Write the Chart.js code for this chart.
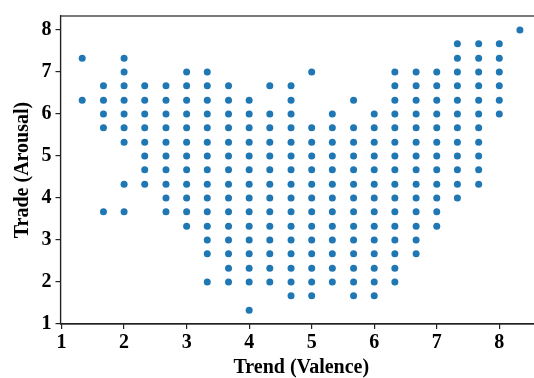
<!DOCTYPE html>
<html>
<head>
<meta charset="utf-8">
<script src="https://cdn.jsdelivr.net/npm/chart.js@4"></script>
<style>
  html, body { margin: 0; padding: 0; background: #fff; overflow: hidden; }
</style>
</head>
<body>
<canvas id="scatterChart" width="546" height="378"></canvas>
<script>
// Trend (Valence) columns and the Arousal values found in each column
const trendValues = [1.33, 1.67, 2, 2.33, 2.67, 3, 3.33, 3.67, 4, 4.33, 4.67,
                     5, 5.33, 5.67, 6, 6.33, 6.67, 7, 7.33, 7.67, 8, 8.33];

const arousalByTrend = [
  [7.33, 6.33],
  [6.67, 6.33, 6, 5.67, 3.67],
  [7.33, 7, 6.67, 6.33, 6, 5.67, 5.33, 4.33, 3.67],
  [6.67, 6.33, 6, 5.67, 5.33, 5, 4.67, 4.33],
  [6.67, 6.33, 6, 5.67, 5.33, 5, 4.67, 4.33, 4, 3.67],
  [7, 6.67, 6.33, 6, 5.67, 5.33, 5, 4.67, 4.33, 4, 3.67, 3.33],
  [7, 6.67, 6.33, 6, 5.67, 5.33, 5, 4.67, 4.33, 4, 3.67, 3.33, 3, 2.67, 2],
  [6.67, 6.33, 6, 5.67, 5.33, 5, 4.67, 4.33, 4, 3.67, 3.33, 3, 2.67, 2.33, 2],
  [6.33, 6, 5.67, 5.33, 5, 4.67, 4.33, 4, 3.67, 3.33, 3, 2.67, 2.33, 2, 1.33],
  [6.67, 6, 5.67, 5.33, 5, 4.67, 4.33, 4, 3.67, 3.33, 3, 2.67, 2.33, 2],
  [6.67, 6.33, 6, 5.67, 5.33, 5, 4.67, 4.33, 4, 3.67, 3.33, 3, 2.67, 2.33, 2, 1.67],
  [7, 5.67, 5.33, 5, 4.67, 4.33, 4, 3.67, 3.33, 3, 2.67, 2.33, 2, 1.67],
  [6, 5.67, 5.33, 5, 4.67, 4.33, 4, 3.67, 3.33, 3, 2.67, 2.33, 2],
  [6.33, 5.67, 5.33, 5, 4.67, 4.33, 4, 3.67, 3.33, 3, 2.67, 2.33, 2, 1.67],
  [6, 5.67, 5.33, 5, 4.67, 4.33, 4, 3.67, 3.33, 3, 2.67, 2.33, 2, 1.67],
  [7, 6.67, 6.33, 6, 5.67, 5.33, 5, 4.67, 4.33, 4, 3.67, 3.33, 3, 2.67, 2.33, 2],
  [7, 6.67, 6.33, 6, 5.67, 5.33, 5, 4.67, 4.33, 4, 3.67, 3.33, 3, 2.67],
  [7, 6.67, 6.33, 6, 5.67, 5.33, 5, 4.67, 4.33, 4, 3.67, 3.33],
  [7.67, 7.33, 7, 6.67, 6.33, 6, 5.67, 5.33, 5, 4.67, 4.33, 4],
  [7.67, 7.33, 7, 6.67, 6.33, 6, 5.67, 5.33, 5, 4.67, 4.33],
  [7.67, 7.33, 7, 6.67, 6.33, 6],
  [8]
];

const xTicks = [1, 2, 3, 4, 5, 6, 7, 8];
const yTicks = [1, 2, 3, 4, 5, 6, 7, 8];

// flatten columns into scatter points
let points = [];
for (let i = 0; i < trendValues.length; i++){
    arousalByTrend[i].forEach(function (a) {
        points.push({x: trendValues[i], y: a});
    });
}

const tickFont = {family: "'Liberation Serif', 'Times New Roman', serif", size: 20, weight: 'bold'};
const titleFont = {family: "'Liberation Serif', 'Times New Roman', serif", size: 20, weight: 'bold'};

//draw the outer frame (top and right spines)
const framePlugin = {
  id: 'frame',
  afterDraw(chart) {
    const {ctx, chartArea} = chart;
    ctx.save();
    ctx.strokeStyle = '#222';
    ctx.lineWidth = 1.2;
    ctx.strokeRect(chartArea.left, chartArea.top, chartArea.right - chartArea.left, chartArea.bottom - chartArea.top);
    ctx.restore();
  }
};

let scatterChart = new Chart(document.querySelector('#scatterChart').getContext('2d'), {
  type: 'scatter',
  data: {
    datasets: [{
      data: points,
      backgroundColor: '#1f77b4',
      borderColor: '#1f77b4',
      pointRadius: 3.5,
      pointBorderWidth: 0
    }]
  },
  options: {
    responsive: false,
    animation: false,
    layout: { padding: {top: 12, right: 3, left: 0, bottom: 0} },
    plugins: { legend: {display: false}, tooltip: {enabled: false} },
    scales: {
      x: {
        type: 'linear',
        min: 0.983,
        max: 8.683,
        afterFit: function (scale) { scale.height = 54; },
        afterBuildTicks: function (scale) { scale.ticks = xTicks.map(v => ({value: v})); },
        grid: {drawOnChartArea: false, drawTicks: true, tickLength: 5, color: '#222', lineWidth: 1.2},
        border: {display: true, color: '#222', width: 1.2},
        ticks: {font: tickFont, color: '#000', padding: 2, maxRotation: 0},
        title: {display: true, text: 'Trend (Valence)', font: titleFont, color: '#000', padding: {top: 0, bottom: -2}}
      },
      y: {
        type: 'linear',
        min: 1,
        max: 8.333,
        afterFit: function (scale) { scale.width = 60.5; },
        afterBuildTicks: function (scale) { scale.ticks = yTicks.map(v => ({value: v})); },
        grid: {drawOnChartArea: false, drawTicks: true, tickLength: 5, color: '#222', lineWidth: 1.2},
        border: {display: true, color: '#222', width: 1.2},
        ticks: {font: tickFont, color: '#000', padding: 4},
        title: {display: true, text: 'Trade (Arousal)', font: titleFont, color: '#000', padding: {top: 11, bottom: 0}}
      }
    }
  },
  plugins: [framePlugin]
});
</script>
</body>
</html>
